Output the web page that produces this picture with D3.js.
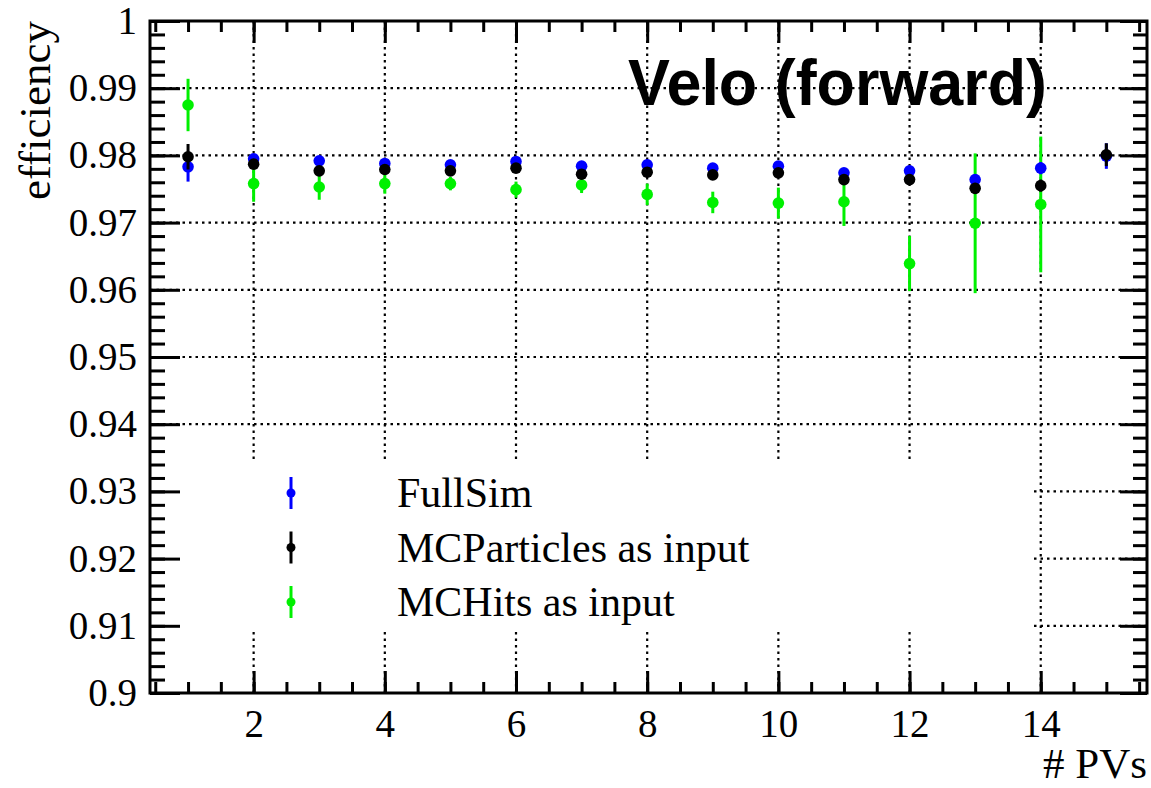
<!DOCTYPE html>
<html>
<head>
<meta charset="utf-8">
<script src="https://cdn.jsdelivr.net/npm/d3@7"></script>
<style>
  body { margin: 0; background: #fff; }
  svg { display: block; }
</style>
</head>
<body>
<script>
// number of primary vertices
var pvs = [1, 2, 3, 4, 5, 6, 7, 8, 9, 10, 11, 12, 13, 14, 15];

var fullSim = [0.9783, 0.9795, 0.9792, 0.9788, 0.9786, 0.9791, 0.9784, 0.9786, 0.9781, 0.9784, 0.9774, 0.9777, 0.9764, 0.9781, 0.9799];
var fullSimErr = [0.0022, 0.0004, 0.0003, 0.0003, 0.0003, 0.0003, 0.0003, 0.0003, 0.0004, 0.0004, 0.0005, 0.0005, 0.0007, 0.0009, 0.0019];

var mcParticles = [0.9798, 0.9787, 0.9777, 0.9779, 0.9777, 0.9781, 0.9772, 0.9775, 0.9771, 0.9774, 0.9764, 0.9764, 0.9751, 0.9755, 0.9801];
var mcParticlesErr = [0.0019, 0.0004, 0.0003, 0.0003, 0.0003, 0.0003, 0.0003, 0.0004, 0.0004, 0.0004, 0.0005, 0.0006, 0.0008, 0.0009, 0.0017];

var mcHits = [0.9875, 0.9758, 0.9753, 0.9758, 0.9758, 0.9749, 0.9756, 0.9742, 0.9730, 0.9729, 0.9731, 0.9639, 0.9699, 0.9727, null];
var mcHitsErr = [0.0039, 0.0027, 0.0019, 0.0015, 0.0010, 0.0012, 0.0012, 0.0016, 0.0016, 0.0023, 0.0036, 0.0041, 0.0104, 0.0101, null];

var xMajor = [2, 4, 6, 8, 10, 12, 14];
var xMinor = d3.range(0.5, 15.51, 0.5);
var yMajor = [0.9, 0.91, 0.92, 0.93, 0.94, 0.95, 0.96, 0.97, 0.98, 0.99, 1];
var yMinor = d3.range(0.9, 1.0001, 0.002);

var seriesNames = ["FullSim", "MCParticles as input", "MCHits as input"];
var title = "Velo (forward)";
var xTitle = "# PVs";
var yTitle = "efficiency";

var width = 1151, height = 788;
var pLeft = 150, pRight = 1147, pTop = 21, pBottom = 693;

var x = d3.scaleLinear().domain([0.42, 15.62]).range([pLeft, pRight]);
var y = d3.scaleLinear().domain([0.9, 1]).range([pBottom, pTop]);

var svg = d3.select("body").append("svg")
  .attr("width", width)
  .attr("height", height);

svg.append("rect").attr("width", width).attr("height", height).attr("fill", "#fff");

// grid
var grid = svg.append("g")
  .attr("stroke", "#000")
  .attr("stroke-width", 2.2)
  .attr("stroke-dasharray", "2.5,4");

grid.selectAll(".vg").data(xMajor).enter().append("line")
  .attr("x1", d => x(d)).attr("x2", d => x(d))
  .attr("y1", pTop).attr("y2", pBottom);

grid.selectAll(".hg").data(yMajor.slice(1, -1)).enter().append("line")
  .attr("x1", pLeft).attr("x2", pRight)
  .attr("y1", d => y(d)).attr("y2", d => y(d));

// legend box hides the grid under it
svg.append("rect")
  .attr("x", pLeft).attr("y", 462)
  .attr("width", 1033 - pLeft).attr("height", 170)
  .attr("fill", "#fff");

// data
var series = [
  { name: seriesNames[2], color: "#00f000", vals: mcHits, errs: mcHitsErr },
  { name: seriesNames[0], color: "#0000ff", vals: fullSim, errs: fullSimErr },
  { name: seriesNames[1], color: "#000000", vals: mcParticles, errs: mcParticlesErr }
];

series.forEach(function (s) {
  var pts = pvs.map((p, i) => ({ x: p, v: s.vals[i], e: s.errs[i] })).filter(d => d.v != null);
  var g = svg.append("g");
  g.selectAll("line").data(pts).enter().append("line")
    .attr("x1", d => x(d.x)).attr("x2", d => x(d.x))
    .attr("y1", d => y(d.v - d.e)).attr("y2", d => y(d.v + d.e))
    .attr("stroke", s.color)
    .attr("stroke-width", 3);
  g.selectAll("circle").data(pts).enter().append("circle")
    .attr("cx", d => x(d.x))
    .attr("cy", d => y(d.v))
    .attr("r", 5.8)
    .attr("fill", s.color);
});

// axes (ROOT style, ticks inward)
var tickFont = "'Liberation Serif', 'Times New Roman', serif";

function styleAxis(g) {
  g.select(".domain").remove();
  g.selectAll(".tick line").attr("stroke", "#000").attr("stroke-width", 3);
  g.selectAll("text").attr("font-family", tickFont).attr("font-size", 39).attr("fill", "#000");
}

svg.append("g").attr("transform", `translate(0,${pBottom})`)
  .call(d3.axisBottom(x).tickValues(xMinor).tickSize(-11).tickFormat(""))
  .call(styleAxis);
svg.append("g").attr("transform", `translate(0,${pBottom})`)
  .call(d3.axisBottom(x).tickValues(xMajor).tickSize(-22).tickPadding(16).tickFormat(d3.format("d")))
  .call(styleAxis);
svg.append("g").attr("transform", `translate(0,${pTop})`)
  .call(d3.axisTop(x).tickValues(xMinor).tickSize(-11).tickFormat(""))
  .call(styleAxis);
svg.append("g").attr("transform", `translate(0,${pTop})`)
  .call(d3.axisTop(x).tickValues(xMajor).tickSize(-22).tickFormat(""))
  .call(styleAxis);

svg.append("g").attr("transform", `translate(${pLeft},0)`)
  .call(d3.axisLeft(y).tickValues(yMinor).tickSize(-15).tickFormat(""))
  .call(styleAxis);
svg.append("g").attr("transform", `translate(${pLeft},0)`)
  .call(d3.axisLeft(y).tickValues(yMajor).tickSize(-30).tickPadding(13).tickFormat(d => String(+d.toFixed(2))))
  .call(styleAxis);
svg.append("g").attr("transform", `translate(${pRight},0)`)
  .call(d3.axisRight(y).tickValues(yMinor).tickSize(-14).tickFormat(""))
  .call(styleAxis);
svg.append("g").attr("transform", `translate(${pRight},0)`)
  .call(d3.axisRight(y).tickValues(yMajor).tickSize(-27).tickFormat(""))
  .call(styleAxis);

// frame
svg.append("rect")
  .attr("x", pLeft).attr("y", pTop)
  .attr("width", pRight - pLeft).attr("height", pBottom - pTop)
  .attr("fill", "none")
  .attr("stroke", "#000")
  .attr("stroke-width", 3);

// axis titles
svg.append("text")
  .attr("x", pRight).attr("y", 778)
  .attr("text-anchor", "end")
  .attr("font-family", tickFont).attr("font-size", 43)
  .text(xTitle);

svg.append("text")
  .attr("transform", "translate(50,21) rotate(-90)")
  .attr("text-anchor", "end")
  .attr("font-family", tickFont).attr("font-size", 45)
  .text(yTitle);

// title
svg.append("text")
  .attr("x", 628).attr("y", 105)
  .attr("font-family", "'Liberation Sans', Arial, Helvetica, sans-serif")
  .attr("font-weight", "bold")
  .attr("font-size", 64)
  .attr("textLength", 419)
  .attr("lengthAdjust", "spacingAndGlyphs")
  .text(title);

// legend
var legendRows = [
  { name: seriesNames[0], color: "#0000ff" },
  { name: seriesNames[1], color: "#000000" },
  { name: seriesNames[2], color: "#00f000" }
];
var ly = d3.scalePoint().domain(seriesNames).range([493, 602]);

var lg = svg.append("g").selectAll("g").data(legendRows).enter().append("g")
  .attr("transform", d => `translate(291,${ly(d.name)})`);
lg.append("line")
  .attr("y1", -16).attr("y2", 16)
  .attr("stroke", d => d.color).attr("stroke-width", 3);
lg.append("circle").attr("r", 4.5).attr("fill", d => d.color);
lg.append("text")
  .attr("x", 106).attr("y", 14)
  .attr("font-family", tickFont).attr("font-size", 42)
  .text(d => d.name);
</script>
</body>
</html>
